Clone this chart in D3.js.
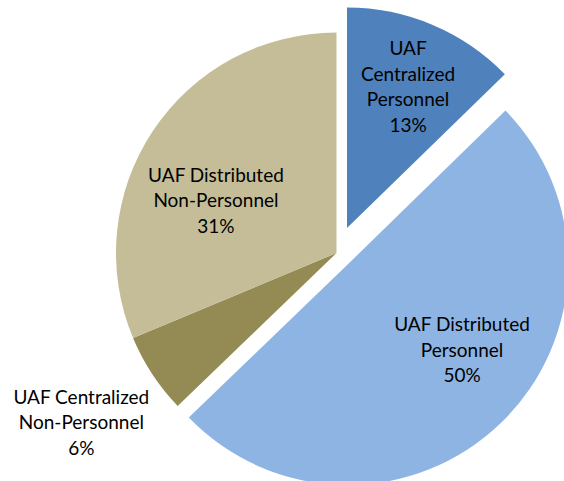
<!DOCTYPE html>
<html><head><meta charset="utf-8">
<script src="https://cdn.jsdelivr.net/npm/d3@7"></script>
<style>html,body{margin:0;padding:0;background:#fff;}svg{display:block;}</style>
</head><body>
<svg id="chart" width="564" height="481"></svg>
<script>
const categories = [
  ["UAF", "Centralized", "Personnel"],
  ["UAF Distributed", "Personnel"],
  ["UAF Centralized", "Non-Personnel"],
  ["UAF Distributed", "Non-Personnel"]
];
const values = [12.7, 50.1, 5.9, 31.3];
const percentLabels = ["13%", "50%", "6%", "31%"];
const colors = ["#4F81BD", "#8EB4E3", "#948A54", "#C4BD97"];

// layout config (not data)
const cx = 336.5, cy = 253, R = 220.5;
const explodeDist = [27, 16, 0, 0];
const labelRadius = [148, 147, 310, 129];
const labelAngleShift = [1.5, -7, -1.3, -12.8]; // degrees
const lineH = 25.5;

const svg = d3.select("#chart");
const pie = d3.pie().sort(null).value(d => d)(values);
const arc = d3.arc().innerRadius(0).outerRadius(R);

const g = svg.append("g").attr("transform", `translate(${cx},${cy})`);

pie.forEach((p, i) => {
  const mid = (p.startAngle + p.endAngle) / 2;
  const off = d3.pointRadial(mid, explodeDist[i]);
  const sg = g.append("g").attr("transform", `translate(${off[0]},${off[1]})`);
  sg.append("path").attr("d", arc(p)).attr("fill", colors[i]);
  const lp = d3.pointRadial(mid + labelAngleShift[i] * Math.PI / 180, labelRadius[i]);
  const lines = categories[i].concat([percentLabels[i]]);
  const t = sg.append("text")
    .attr("text-anchor", "middle")
    .attr("font-family", "Lato, 'Open Sans', sans-serif")
    .attr("font-size", 19)
    .attr("fill", "#000");
  lines.forEach((ln, k) => {
    t.append("tspan")
      .attr("x", lp[0])
      .attr("y", lp[1] + (k - (lines.length - 1) / 2) * lineH)
      .text(ln);
  });
});
</script>
</body></html>
